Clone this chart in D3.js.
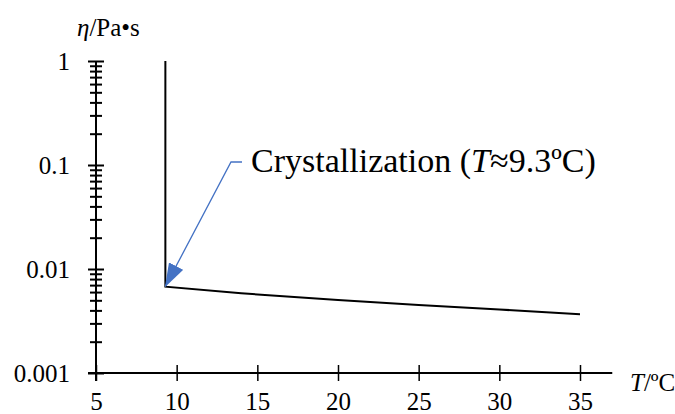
<!DOCTYPE html>
<html>
<head>
<meta charset="utf-8">
<script src="https://cdn.jsdelivr.net/npm/d3@7"></script>
<style>
  body { margin: 0; background: #fff; }
  svg { display: block; }
  svg text { font-family: "Liberation Serif", "DejaVu Serif", serif; }
</style>
</head>
<body>
<div id="chart"></div>
<script>
const width = 675, height = 414;

// viscosity curve
const tempC = [9.3, 9.3, 14, 20, 25, 30, 35];
const viscosity = [1, 0.00676, 0.00584, 0.00503, 0.00451, 0.00408, 0.00367];

const xTicks = [5, 10, 15, 20, 25, 30, 35];
const yMajor = [0.001, 0.01, 0.1, 1];
const yLabels = ["0.001", "0.01", "0.1", "1"];

const crystalT = 9.3;
const crystalEta = 0.0068;
const noteText = "Crystallization (";
const noteVar = "T";
const noteRest = "≈9.3ºC)";

const x = d3.scaleLinear().domain([5, 35]).range([96, 580]);
const y = d3.scaleLog().domain([0.001, 1]).range([373, 61]);

const svg = d3.select("#chart").append("svg")
  .attr("width", width)
  .attr("height", height);

// minor ticks 2..9 in each decade
let yMinor = [];
for (let k = -3; k < 0; k++) {
  for (let m = 2; m < 10; m++) yMinor.push(m * Math.pow(10, k));
}

// y axis
const yAxis = svg.append("g")
  .attr("transform", `translate(${x(5)},0)`)
  .call(d3.axisLeft(y).tickValues(yMajor).tickFormat((d, i) => yLabels[i]).tickSizeOuter(0));
yAxis.attr("font-family", null);
yAxis.select(".domain").remove();
yAxis.selectAll(".tick line").attr("x1", -8).attr("x2", 8).attr("stroke", "#000").attr("stroke-width", 2);
yAxis.selectAll(".tick text")
  .attr("x", -26)
  .attr("dy", "0.34em")
  .style("font-size", "25px")
  .attr("fill", "#000");

const yMinorAxis = svg.append("g")
  .attr("transform", `translate(${x(5)},0)`)
  .call(d3.axisLeft(y).tickValues(yMinor).tickFormat(""));
yMinorAxis.select(".domain").remove();
yMinorAxis.selectAll(".tick line").attr("x1", -6).attr("x2", 6).attr("stroke", "#000").attr("stroke-width", 2);

svg.append("line")
  .attr("x1", x(5)).attr("x2", x(5))
  .attr("y1", y(1)).attr("y2", y(0.001) + 8)
  .attr("stroke", "#000").attr("stroke-width", 2);

// x axis
const xAxis = svg.append("g")
  .attr("transform", `translate(0,${y(0.001)})`)
  .call(d3.axisBottom(x).tickValues(xTicks).tickSizeOuter(0));
xAxis.attr("font-family", null);
xAxis.select(".domain").remove();
xAxis.selectAll(".tick line").attr("y1", -8).attr("y2", 8).attr("stroke", "#000").attr("stroke-width", 1.5);
xAxis.selectAll(".tick text")
  .attr("y", 37)
  .attr("dy", null)
  .style("font-size", "25px")
  .attr("fill", "#000");

svg.append("line")
  .attr("x1", x(5) - 8).attr("x2", x(37))
  .attr("y1", y(0.001)).attr("y2", y(0.001))
  .attr("stroke", "#000").attr("stroke-width", 2);

// axis titles
const yTitle = svg.append("text")
  .attr("x", 77).attr("y", 36)
  .style("font-size", "25px");
yTitle.append("tspan").style("font-style", "italic").text("η");
yTitle.append("tspan").text("/Pa•s");

const xTitle = svg.append("text")
  .attr("x", 630).attr("y", 391)
  .style("font-size", "25px");
xTitle.append("tspan").style("font-style", "italic").text("T");
xTitle.append("tspan").text("/ºC");

// data line
const line = d3.line()
  .x((d, i) => x(tempC[i]))
  .y(d => y(d));

svg.append("path")
  .datum(viscosity)
  .attr("d", line)
  .attr("fill", "none")
  .attr("stroke", "#000")
  .attr("stroke-width", 2);

// annotation
const blue = "#4472C4";
const tipX = x(crystalT), tipY = y(crystalEta);
const elbow = [231, 162];

const defs = svg.append("defs");
defs.append("marker")
  .attr("id", "arrow")
  .attr("viewBox", "0 0 24 16")
  .attr("refX", 23).attr("refY", 8)
  .attr("markerWidth", 24).attr("markerHeight", 16)
  .attr("markerUnits", "userSpaceOnUse")
  .attr("orient", "auto")
  .append("path")
  .attr("d", "M0,0 L24,8 L0,16 Z")
  .attr("fill", blue);

svg.append("path")
  .attr("d", `M242,${elbow[1]} L${elbow[0]},${elbow[1]} L${tipX},${tipY}`)
  .attr("fill", "none")
  .attr("stroke", blue)
  .attr("stroke-width", 1.3)
  .attr("marker-end", "url(#arrow)");

const note = svg.append("text")
  .attr("x", 251).attr("y", 172)
  .style("font-size", "30px")
  .attr("fill", "#000");
note.append("tspan").text(noteText);
note.append("tspan").style("font-style", "italic").text(noteVar);
note.append("tspan").text(noteRest);

// fit note to the width seen in the picture
const w = note.node().getComputedTextLength();
note.style("font-size", (30 * 345 / w) + "px");
</script>
</body>
</html>
